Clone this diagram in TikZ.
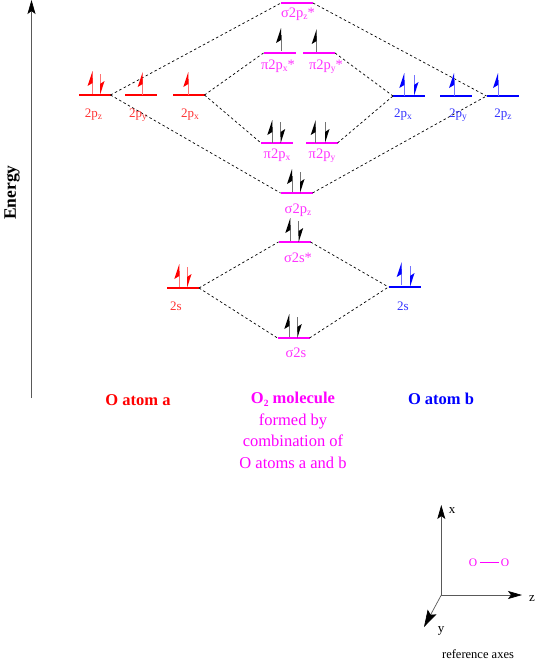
\documentclass[tikz,border=0pt]{standalone}
\usepackage{fontspec}
\setmainfont{Liberation Serif}
\usetikzlibrary{arrows.meta}
\definecolor{molpink}{RGB}{255,0,255}
\definecolor{atomred}{RGB}{255,0,0}
\definecolor{atomblue}{RGB}{0,0,255}
\newcommand{\subs}[1]{\raisebox{-2.5pt}{\fontsize{9.5}{10}\selectfont #1}}
\tikzset{
  lvl/.style={rectangle,fill=#1,minimum width=32pt,minimum height=1.1pt,
              inner sep=0pt,outer sep=0pt},
  lab/.style={anchor=base,inner sep=0pt,text=#1,
              font=\fontsize{13}{15}\selectfont},
  mollab/.style={lab=molpink!80,font=\fontsize{14.5}{16}\selectfont},
  headlab/.style={anchor=base,inner sep=0pt,text=#1,align=center,
               font=\fontsize{16.5}{21.5}\selectfont},
  link/.style={dash pattern=on 2.5pt off 2.5pt,line width=0.7pt,black},
  axisline/.style={-{Stealth[length=14pt,width=8pt,inset=3pt,black]},line width=0.7pt,black!65},
  pics/upspin/.style={code={
    \draw[line width=0.7pt,#1!55] (0,0) -- (0,-16);
    \fill[#1] (0,-23) -- (-5,-8) -- (0,-11) -- cycle;}},
  pics/downspin/.style={code={
    \draw[line width=0.7pt,#1!55] (0,-21) -- (0,-6);
    \fill[#1] (0,0) -- (4.5,-14) -- (0,-11) -- cycle;}},
}

\begin{document}
\begin{tikzpicture}[x=1pt,y=-1pt]
  \useasboundingbox (0,0) rectangle (537,664);

  % atom a
  \foreach \name/\xx/\yy in {az/94.5/95,ay/140.5/95,ax/188.5/95,as/183/288}
    \node[lvl=atomred] (\name) at (\xx,\yy) {};
  % molecule
  \foreach \name/\xx/\yy in {szs/297/3,pxs/279.5/53,pys/319/53,px/277/143,py/321.5/143,
                             sz/296.5/193,sss/294.5/242,ss/293.5/338}
    \node[lvl=molpink] (\name) at (\xx,\yy) {};
  % atom b
  \foreach \name/\xx/\yy in {bx/409/96,by/455.5/96,bz/502.5/96,bs/404.5/287}
    \node[lvl=atomblue] (\name) at (\xx,\yy) {};

  \foreach \a/\b in {az/szs,az/sz,ax/pxs,ax/px,as/sss,as/ss,
                     szs/bz,sz/bz,pys/bx,py/bx,sss/bs,ss/bs}
    \draw[link] (\a.east) -- (\b.west);

  % electrons
  \foreach \xx/\yy in {92.5/94,142.7/95,188.3/95,179.3/287}
    \pic at (\xx,\yy) {upspin=atomred};
  \foreach \xx/\yy in {100/95,187/288}
    \pic at (\xx,\yy) {downspin=atomred};
  \foreach \xx/\yy in {281/51,316.7/52,272.3/143,315.7/143,292/192,290.3/241,289.3/337}
    \pic at (\xx,\yy) {upspin=black};
  \foreach \xx/\yy in {280.7/143,325/143,300/193,298.7/242,297.3/338}
    \pic at (\xx,\yy) {downspin=black};
  \foreach \xx/\yy in {404.3/96,454/96,498/96,401.7/285}
    \pic at (\xx,\yy) {upspin=atomblue};
  \foreach \xx/\yy in {414/96,410/287}
    \pic at (\xx,\yy) {downspin=atomblue};

  % orbital labels
  \foreach \name/\xx/\yy/\txt in {lz/93.5/117/2p\subs{z},ly/138/117/2p\subs{y},lx/190/117/2p\subs{x},ls/176/310/2s}
    \node[lab=atomred!80] (\name) at (\xx,\yy) {\txt};
  \foreach \name/\xx/\yy/\txt in {lszs/298/17/σ2p\subs{z}*,lpxs/278/69/π2p\subs{x}*,lpys/326/69/π2p\subs{y}*,
                                  lpx/277/158/π2p\subs{x},lpy/322/158/π2p\subs{y},lsz/298/213/σ2p\subs{z},
                                  lsss/298/262/σ2s*,lss/296/357/σ2s}
    \node[mollab] (\name) at (\xx,\yy) {\txt};
  \foreach \name/\xx/\yy/\txt in {rx/403/117/2p\subs{x},ry/458/117/2p\subs{y},rz/503/117/2p\subs{z},rs/403/310/2s}
    \node[lab=atomblue!80] (\name) at (\xx,\yy) {\txt};

  % energy axis
  \coordinate (ebot) at (31.5,398);
  \coordinate (etop) at (31.5,0);
  \draw[axisline] (ebot) -- (etop);
  \node[rotate=90,anchor=base,inner sep=0pt,font=\fontsize{17.5}{20}\selectfont\bfseries] (energy) at (16,192.5) {Energy};

  % headings
  \node[headlab=atomred,font=\fontsize{16.5}{21.5}\selectfont\bfseries] (atoma) at (138,405) {O atom a};
  \node[headlab=atomblue,font=\fontsize{16.5}{21.5}\selectfont\bfseries] (atomb) at (441,404) {O atom b};
  \node[headlab=molpink] (mol) at (293,468)
    {\textbf{O\subs{2} molecule}\\formed by\\combination of\\O atoms a and b};

  % reference axes
  \coordinate (orig) at (441.3,595);
  \coordinate (xtip) at (441.3,505);
  \coordinate (ztip) at (522,595);
  \coordinate (ytip) at (424,627);
  \foreach \t in {xtip,ztip}
    \draw[axisline] (orig) -- (\t);
  \draw[axisline,-{Stealth[length=17pt,width=10pt,inset=3pt,black]}] (orig) -- (ytip);
  \node[lab=black] (xlab) at (452,513) {x};
  \node[lab=black] (zlab) at (532,601) {z};
  \node[lab=black] (ylab) at (441,632) {y};
  \node[lab=molpink,font=\fontsize{11.5}{12}\selectfont] (oa) at (473,566) {O};
  \node[lab=molpink,font=\fontsize{11.5}{12}\selectfont] (ob) at (505,566) {O};
  \draw[molpink,line width=0.7pt,shorten <=2.5pt,shorten >=1.5pt] (oa) -- (ob);
  \node[lab=black,font=\fontsize{12.5}{15}\selectfont] (refax) at (478,658) {reference axes};
\end{tikzpicture}
\end{document}
